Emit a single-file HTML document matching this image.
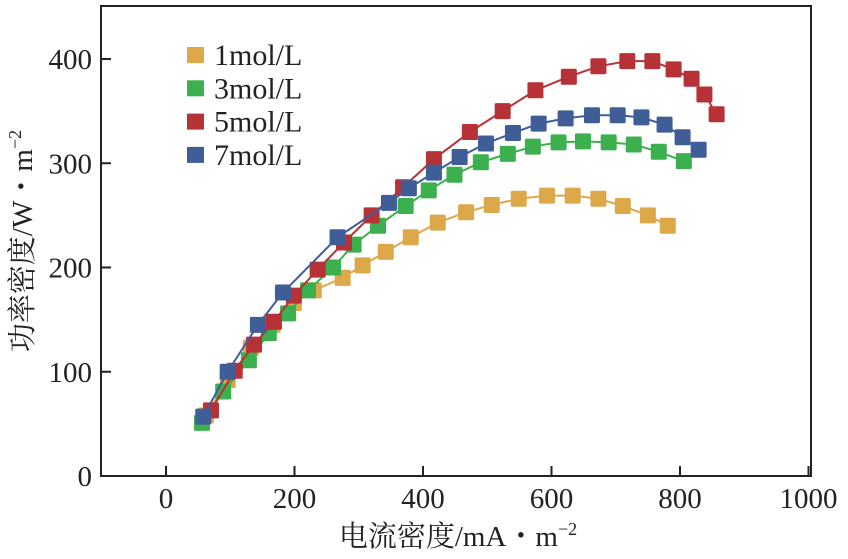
<!DOCTYPE html>
<html><head><meta charset="utf-8"><style>
body{margin:0;background:#fff}
svg text{font-family:"Liberation Serif","Noto Serif CJK SC",serif;fill:#222}
</style></head><body>
<svg width="848" height="554" id="c"></svg>
<script>
const xs1=[62,96,132,166,199,230,275,306,342,381,423,467,507,549,593,633,673,711,750,781];
const ys1=[58,92,123,145,166,178,190,202,215,229,243,253,260,266,269,269,266,259,250,240];
const xs3=[56,89,129,160,190,221,260,292,330,373,409,449,490,532,571,611,649,689,728,767,806];
const ys3=[51,81,111,137,156,178,200,222,240,259,274,289,301,309,316,320,321,320,318,311,302];
const xs5=[70,107,137,168,199,236,277,320,369,417,473,524,575,627,673,718,757,790,818,838,857];
const ys5=[63,101,126,148,173,198,224,250,277,304,330,350,370,383,393,398,398,390,381,366,347];
const xs7=[58,96,143,182,267,347,378,417,457,498,540,580,622,663,703,740,776,804,829];
const ys7=[57,100,145,176,229,262,276,291,306,319,329,338,343,346,346,344,337,325,313];
const seriesNames=["1mol/L","3mol/L","5mol/L","7mol/L"];
const colors=["#dca84a","#3cb04e","#b73236","#3f5e98"];
const xTicks=[0,200,400,600,800,1000];
const yTicks=[0,100,200,300,400];
const NS="http://www.w3.org/2000/svg";
const svg=document.getElementById('c');
function X(v){return 166+v*0.6425;}
function Y(v){return 476-v*1.0425;}
function mk(t,a,p){const e=document.createElementNS(NS,t);for(const k in a)e.setAttribute(k,a[k]);(p||svg).appendChild(e);return e;}
const frame=mk('rect',{x:101,y:6,width:710,height:470,fill:'none',stroke:'#222','stroke-width':2});


xTicks.forEach(v=>{
  const l=mk('line',{x1:X(v),x2:X(v),y1:476,y2:466,stroke:'#222','stroke-width':2});
  
  
  const t=mk('text',{x:X(v),y:508,'text-anchor':'middle','font-size':29});
  t.textContent=v;
  
  
});
yTicks.forEach(v=>{
  const l=mk('line',{x1:101,x2:111,y1:Y(v),y2:Y(v),stroke:'#222','stroke-width':2});
  
  
  const t=mk('text',{x:92,y:Y(v)+10,'text-anchor':'end','font-size':29});
  t.textContent=v;
  
  
});
const xt=mk('text',{x:458,y:546,'text-anchor':'middle','font-size':29});
xt.innerHTML='电流密度/mA・m<tspan dy="-11" font-size="18">−2</tspan>';


const yt=mk('text',{x:0,y:0,'text-anchor':'middle','font-size':29,transform:'translate(32,241) rotate(-90)'});
yt.innerHTML='功率密度/W・m<tspan dy="-11" font-size="18">−2</tspan>';


const all=[[xs1,ys1],[xs3,ys3],[xs5,ys5],[xs7,ys7]];
all.forEach((s,i)=>{
  const g=mk('g',{});
  
  
  const pts=s[0].map((x,j)=>X(x)+','+Y(s[1][j])).join(' ');
  const pl=mk('polyline',{points:pts,fill:'none',stroke:colors[i],'stroke-width':2},g);
  
  
  s[0].forEach((x,j)=>{
    const r=mk('rect',{x:X(x)-8,y:Y(s[1][j])-8,width:16,height:16,rx:1.5,fill:colors[i]},g);
    
    
  });
});
seriesNames.forEach((n,i)=>{
  const g=mk('g',{});
  
  
  const cy=55+i*33.3;
  mk('rect',{x:187,y:cy-8,width:17,height:16,fill:colors[i]},g);
  const t=mk('text',{x:214,y:cy+10,'font-size':30},g);
  t.textContent=n;
});
</script>
</body></html>
